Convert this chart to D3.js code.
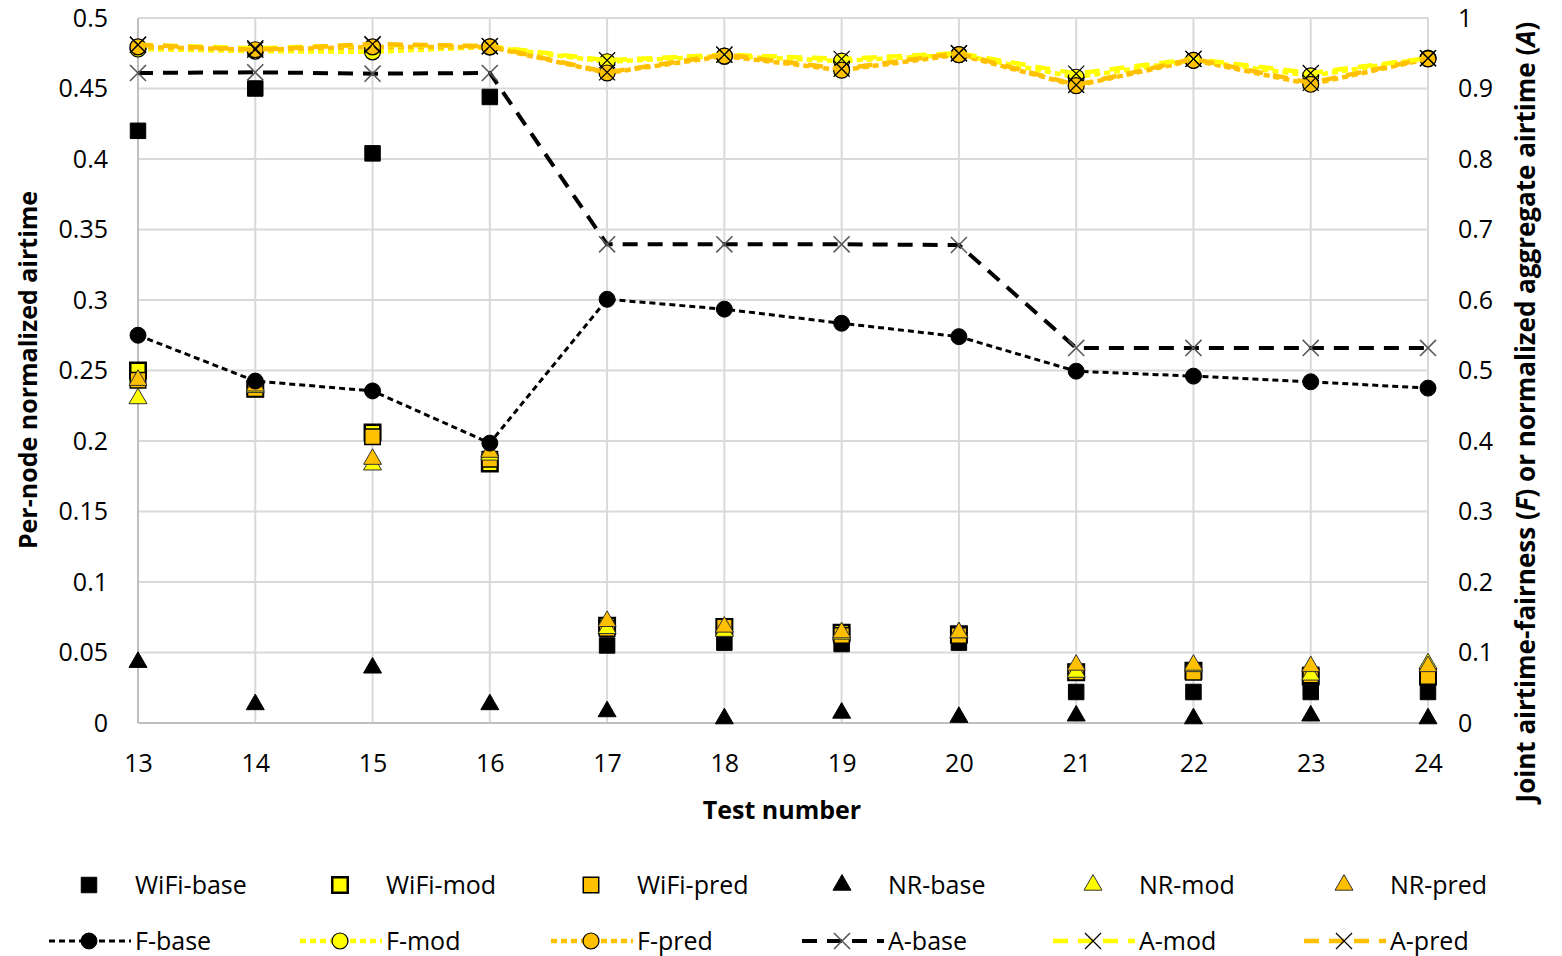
<!DOCTYPE html>
<html>
<head>
<meta charset="utf-8">
<script src="https://cdn.jsdelivr.net/npm/d3@7"></script>
<style>
  body { margin: 0; background: #fff; }
  text { font-family: "Open Sans", "Noto Sans", sans-serif; fill: #000; }
</style>
</head>
<body>
<svg id="chart" width="1562" height="956"></svg>
<script>
// test numbers on the x axis
const tests = [13, 14, 15, 16, 17, 18, 19, 20, 21, 22, 23, 24];

// per-node normalized airtime (left axis)
const wifiBase = [0.42, 0.45, 0.404, 0.444, 0.055, 0.057, 0.056, 0.057, 0.022, 0.022, 0.022, 0.022];
const wifiMod  = [0.25, 0.237, 0.206, 0.184, 0.069, 0.068, 0.064, 0.063, 0.036, 0.037, 0.033, 0.033];
const wifiPred = [0.243, 0.237, 0.203, 0.187, 0.067, 0.068, 0.062, 0.062, 0.036, 0.036, 0.034, 0.033];
const nrBase   = [0.041, 0.011, 0.037, 0.011, 0.006, 0.001, 0.005, 0.002, 0.003, 0.001, 0.003, 0.001];
const nrMod    = [0.228, 0.236, 0.181, 0.188, 0.065, 0.063, 0.061, 0.062, 0.034, 0.038, 0.032, 0.04];
const nrPred   = [0.241, 0.237, 0.185, 0.19, 0.07, 0.066, 0.062, 0.062, 0.039, 0.039, 0.038, 0.038];

// fairness / aggregate airtime (right axis)
const fBase = [0.55, 0.485, 0.471, 0.397, 0.601, 0.587, 0.567, 0.548, 0.499, 0.492, 0.484, 0.475];
const fMod  = [0.956, 0.953, 0.952, 0.959, 0.938, 0.946, 0.939, 0.948, 0.916, 0.94, 0.918, 0.943];
const fPred = [0.959, 0.955, 0.959, 0.959, 0.922, 0.946, 0.926, 0.948, 0.904, 0.94, 0.906, 0.942];
const aBase = [0.922, 0.923, 0.921, 0.922, 0.679, 0.679, 0.679, 0.678, 0.532, 0.532, 0.532, 0.532];
const aMod  = [0.962, 0.957, 0.962, 0.96, 0.94, 0.948, 0.942, 0.95, 0.921, 0.942, 0.922, 0.943];
const aPred = [0.962, 0.955, 0.963, 0.96, 0.923, 0.948, 0.928, 0.95, 0.905, 0.942, 0.908, 0.943];

const leftTicks  = [0, 0.05, 0.1, 0.15, 0.2, 0.25, 0.3, 0.35, 0.4, 0.45, 0.5];
const rightTicks = [0, 0.1, 0.2, 0.3, 0.4, 0.5, 0.6, 0.7, 0.8, 0.9, 1];

const YEL = '#ffff00', ORA = '#ffc000';
const FS = '25px';

const svg = d3.select('#chart');
const L = 138, R = 1428, T = 18, B = 723;

const x  = d3.scaleLinear().domain([13, 24]).range([L, R]);
const yL = d3.scaleLinear().domain([0, 0.5]).range([B, T]);
const yR = d3.scaleLinear().domain([0, 1]).range([B, T]);

// grid
const grid = svg.append('g');
grid.selectAll('.hg').data(leftTicks).enter().append('line')
    .attr('x1', L).attr('x2', R)
    .attr('y1', d => yL(d)).attr('y2', d => yL(d))
    .attr('stroke', '#d9d9d9').attr('stroke-width', 2);
grid.selectAll('.vg').data(tests).enter().append('line')
    .attr('x1', d => x(d)).attr('x2', d => x(d))
    .attr('y1', T).attr('y2', B)
    .attr('stroke', '#d9d9d9').attr('stroke-width', 2);
// axis lines
svg.append('line').attr('x1', L).attr('x2', L).attr('y1', T).attr('y2', B)
    .attr('stroke', '#bfbfbf').attr('stroke-width', 2);
svg.append('line').attr('x1', L).attr('x2', R).attr('y1', B).attr('y2', B)
    .attr('stroke', '#bfbfbf').attr('stroke-width', 2);

// axes (labels only)
const fmt = d => d === 0 ? '0' : String(+d.toFixed(2));
const axL = svg.append('g').attr('transform', `translate(${L},0)`)
    .call(d3.axisLeft(yL).tickValues(leftTicks).tickFormat(fmt).tickSize(0).tickPadding(30));
const axR = svg.append('g').attr('transform', `translate(${R},0)`)
    .call(d3.axisRight(yR).tickValues(rightTicks).tickFormat(fmt).tickSize(0).tickPadding(30));
const axB = svg.append('g').attr('transform', `translate(0,${B})`)
    .call(d3.axisBottom(x).tickValues(tests).tickFormat(d3.format('d')).tickSize(0).tickPadding(31));
[axL, axR, axB].forEach(a => {
    a.select('.domain').remove();
    a.selectAll('text').style('font-size', FS).style('font-family', '"Open Sans", sans-serif');
});

// axis titles
svg.append('text').attr('x', 782).attr('y', 819).attr('text-anchor', 'middle')
    .style('font-size', FS).style('font-weight', 'bold').text('Test number');
svg.append('text').attr('transform', 'translate(37,370) rotate(-90)').attr('text-anchor', 'middle')
    .style('font-size', FS).style('font-weight', 'bold').text('Per-node normalized airtime');
const rt = svg.append('text').attr('transform', 'translate(1535,412) rotate(-90)').attr('text-anchor', 'middle')
    .style('font-size', '26px').style('font-weight', 'bold');
rt.append('tspan').text('Joint airtime-fairness (');
rt.append('tspan').style('font-style', 'italic').text('F');
rt.append('tspan').text(') or normalized aggregate airtime (');
rt.append('tspan').style('font-style', 'italic').text('A');
rt.append('tspan').text(')');

// marker drawing helpers
const sq = d3.symbol().type(d3.symbolSquare).size(240)();
const tri = d3.symbol().type(d3.symbolTriangle).size(140)();
const circ = d3.symbol().type(d3.symbolCircle).size(200)();
const cross = d3.symbol().type(d3.symbolX).size(170)();

function markers(g, vals, yScale, path, fill, stroke, sw, dy) {
    g.selectAll(null).data(vals).enter().append('path')
        .attr('d', path)
        .attr('transform', (d, i) => `translate(${x(tests[i])},${yScale(d) + (dy || 0)})`)
        .attr('fill', fill).attr('stroke', stroke).attr('stroke-width', sw);
}
function line(g, vals, yScale, color, width, dash) {
    g.append('path').datum(vals)
        .attr('d', d3.line().x((d, i) => x(tests[i])).y(d => yScale(d)))
        .attr('fill', 'none').attr('stroke', color).attr('stroke-width', width)
        .attr('stroke-dasharray', dash);
}

const plot = svg.append('g');
markers(plot, wifiBase, yL, sq, '#000', '#000', 1);
markers(plot, wifiMod, yL, sq, YEL, '#000', 2.5);
markers(plot, wifiPred, yL, sq, ORA, '#000', 1.5);
markers(plot, nrBase, yL, tri, '#000', '#000', 1, -3);
markers(plot, nrMod, yL, tri, YEL, '#333', 1, -3);
markers(plot, nrPred, yL, tri, ORA, '#333', 1, -3);

line(plot, fBase, yR, '#000', 3, '6,4');
markers(plot, fBase, yR, circ, '#000', '#000', 1);
line(plot, fMod, yR, YEL, 4.5, '6,4');
markers(plot, fMod, yR, circ, YEL, '#000', 1.2);
line(plot, fPred, yR, ORA, 4.5, '6,4');
markers(plot, fPred, yR, circ, ORA, '#000', 1.2);
line(plot, aBase, yR, '#000', 4, '15,10');
markers(plot, aBase, yR, cross, 'none', '#595959', 1.6);
line(plot, aMod, yR, YEL, 4.5, '15,10');
markers(plot, aMod, yR, cross, 'none', '#000', 1.2);
line(plot, aPred, yR, ORA, 4.5, '15,10');
markers(plot, aPred, yR, cross, 'none', '#000', 1.2);

// legend
const legend1 = [
    { name: 'WiFi-base', path: sq, fill: '#000', stroke: '#000', sw: 1 },
    { name: 'WiFi-mod', path: sq, fill: YEL, stroke: '#000', sw: 2.5 },
    { name: 'WiFi-pred', path: sq, fill: ORA, stroke: '#000', sw: 1.5 },
    { name: 'NR-base', path: tri, fill: '#000', stroke: '#000', sw: 1 },
    { name: 'NR-mod', path: tri, fill: YEL, stroke: '#333', sw: 1 },
    { name: 'NR-pred', path: tri, fill: ORA, stroke: '#333', sw: 1 }
];
const legend2 = [
    { name: 'F-base', path: circ, fill: '#000', stroke: '#000', sw: 1, color: '#000', w: 3, dash: '6,4' },
    { name: 'F-mod', path: circ, fill: YEL, stroke: '#000', sw: 1.2, color: YEL, w: 4.5, dash: '6,4' },
    { name: 'F-pred', path: circ, fill: ORA, stroke: '#000', sw: 1.2, color: ORA, w: 4.5, dash: '6,4' },
    { name: 'A-base', path: cross, fill: 'none', stroke: '#595959', sw: 1.6, color: '#000', w: 4, dash: '15,10' },
    { name: 'A-mod', path: cross, fill: 'none', stroke: '#000', sw: 1.2, color: YEL, w: 4.5, dash: '15,10' },
    { name: 'A-pred', path: cross, fill: 'none', stroke: '#000', sw: 1.2, color: ORA, w: 4.5, dash: '15,10' }
];
const colX = i => 89 + i * 251;

const lg1 = svg.append('g').selectAll('g').data(legend1).enter().append('g')
    .attr('transform', (d, i) => `translate(${colX(i)},885)`);
lg1.append('path').attr('d', d => d.path).attr('fill', d => d.fill)
    .attr('stroke', d => d.stroke).attr('stroke-width', d => d.sw);
lg1.append('text').attr('x', 46).attr('y', 9).style('font-size', FS).text(d => d.name);

const lg2 = svg.append('g').selectAll('g').data(legend2).enter().append('g')
    .attr('transform', (d, i) => `translate(${colX(i)},941)`);
lg2.append('line').attr('x1', -40).attr('x2', 42).attr('y1', 0).attr('y2', 0)
    .attr('stroke', d => d.color).attr('stroke-width', d => d.w)
    .attr('stroke-dasharray', d => d.dash);
lg2.append('path').attr('d', d => d.path).attr('fill', d => d.fill)
    .attr('stroke', d => d.stroke).attr('stroke-width', d => d.sw);
lg2.append('text').attr('x', 46).attr('y', 9).style('font-size', FS).text(d => d.name);
</script>
</body>
</html>
